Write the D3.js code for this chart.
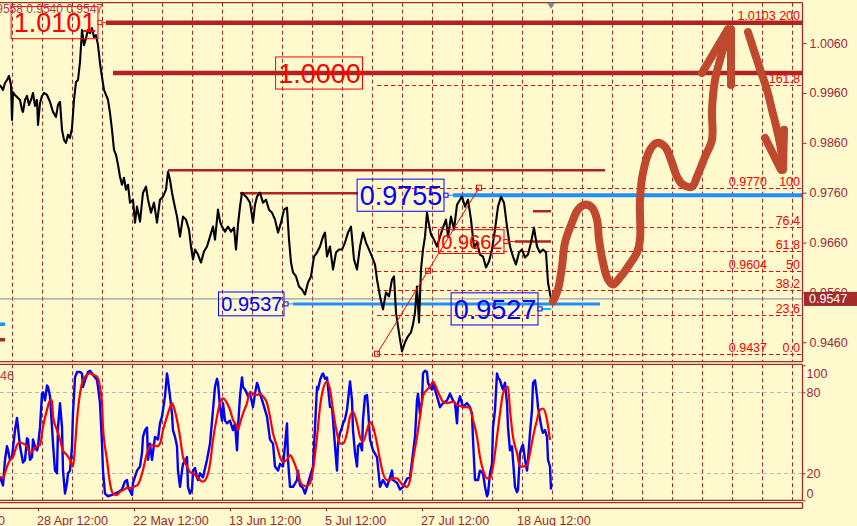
<!DOCTYPE html>
<html><head><meta charset="utf-8">
<script src="https://cdn.jsdelivr.net/npm/d3@7"></script>
<style>
html,body{margin:0;padding:0;background:#FFFACD;}
svg{display:block;}
text{font-family:"Liberation Sans",Arial,sans-serif;}
</style></head><body>
<svg id="c" width="857" height="526"></svg>
<script>
// ---------------- DATA ----------------
// price series: [bar index, close]
const priceSeries = [[0,0.9976],[3,0.9966],[5,0.9980],[7,0.9986],[9,0.9994],[11,0.9976],[12,0.9906],[13,0.9962],[15,0.9956],[18,0.9950],[20,0.9946],[22,0.9926],[23,0.9922],[25,0.9946],[27,0.9954],[29,0.9936],[31,0.9946],[33,0.9960],[35,0.9934],[37,0.9946],[38,0.9896],[40,0.9940],[42,0.9954],[44,0.9960],[47,0.9956],[50,0.9942],[53,0.9922],[56,0.9912],[58,0.9936],[60,0.9942],[62,0.9886],[64,0.9866],[66,0.9860],[68,0.9876],[70,0.9870],[72,0.9890],[74,0.9946],[76,0.9982],[78,0.9986],[80,1.0022],
[82,1.0086],[84,1.0056],[86,1.0070],[88,1.0086],[90,1.0080],[92,1.0090],[94,1.0072],[96,1.0076],[98,1.0056],[100,1.0020],[102,0.9992],[104,0.9966],[106,0.9956],[108,0.9946],[110,0.9920],[112,0.9886],[114,0.9846],[116,0.9836],[118,0.9816],[120,0.9792],[122,0.9776],[124,0.9790],[126,0.9766],[128,0.9776],[130,0.9740],
[133,0.9746],[135,0.9700],[137,0.9732],[140,0.9702],[143,0.9760],[146,0.9772],[148,0.9746],[151,0.9720],[154,0.9740],[157,0.9700],[160,0.9746],[163,0.9752],[166,0.9766],[168,0.9802],[170,0.9786],[172,0.9760],[174,0.9740],[177,0.9712],[180,0.9672],[183,0.9712],[186,0.9706],[189,0.9686],[191,0.9652],[193,0.9626],[195,0.9646],[198,0.9636],[201,0.9620],[204,0.9642],[207,0.9652],[210,0.9672],[213,0.9692],[215,0.9666],[218,0.9726],[220,0.9702],[222,0.9692],[225,0.9682],[228,0.9692],[231,0.9682],[234,0.9690],[236,0.9646],[238,0.9696],[240,0.9732],[242,0.9760],[244,0.9756],[247,0.9750],[250,0.9740],[253,0.9700],[255,0.9736],[257,0.9752],[260,0.9760],[263,0.9740],[266,0.9746],[269,0.9726],[272,0.9720],[275,0.9706],[278,0.9680],[281,0.9700],[284,0.9726],[287,0.9730],[289,0.9666],[291,0.9620],[293,0.9600],[296,0.9592],[299,0.9572],[302,0.9566],[305,0.9556],[308,0.9580],[311,0.9592],[314,0.9632],[317,0.9640],[320,0.9652],[323,0.9672],[325,0.9680],[327,0.9632],[330,0.9652],[333,0.9606],[336,0.9640],[339,0.9646],[342,0.9646],[345,0.9660],[348,0.9680],[351,0.9692],[354,0.9626],[357,0.9606],[360,0.9652],[363,0.9680],[366,0.9660],[369,0.9646],[372,0.9632],[375,0.9616],[377,0.9586],[380,0.9552],[383,0.9526],[386,0.9560],[389,0.9552],[392,0.9586],[394,0.9592],[396,0.9520],[398,0.9492],[400,0.9466],[402,0.9442],[405,0.9460],[408,0.9472],[411,0.9480],[413,0.9496],[415,0.9520],[417,0.9572],[419,0.9500],[421,0.9606],[423,0.9646],[425,0.9672],[427,0.9720],[429,0.9696],[431,0.9676],[434,0.9666],[437,0.9652],[440,0.9672],[443,0.9690],[446,0.9706],[448,0.9672],[451,0.9712],[454,0.9686],[457,0.9736],[460,0.9746],[462,0.9752],[465,0.9732],[468,0.9746],[471,0.9706],[474,0.9650],[477,0.9660],[480,0.9636],[483,0.9632],[486,0.9610],[489,0.9622],[492,0.9646],[495,0.9686],[498,0.9732],[501,0.9752],[504,0.9740],[507,0.9692],[510,0.9652],[513,0.9632],[516,0.9616],[519,0.9640],[522,0.9646],[525,0.9630],[528,0.9636],[531,0.9660],[534,0.9690],[537,0.9652],[540,0.9640],[543,0.9646],[546,0.9640],[548,0.9580],[551,0.9547]];

// stochastic %K (blue) and %D (red): [bar index, value]
const stochK = [[0,17.5],[3,11],[5,30],[7,40],[8,37],[10,30],[12,32],[15,52],[17,61],[18,54],[20,40],[23,28],[25,30],[27,46],[28,45],[30,30],[32,32],[33,45],[35,40],[37,37],[38,40],[40,54],[42,79],[43,80],[45,74],[47,85],[48,84],[50,77],[52,54],[53,42],[55,22],[57,20],[58,54],[60,72],[62,54],[63,22],[65,5],[67,13],[68,20],[70,22],[72,40],[73,65],[75,91],[77,95],[80,95],[82,94],[83,84],[85,89],[88,95],[90,96],[93,93],[97,89],[98,84],[100,72],[102,42],[103,22],[105,5],[108,3],[112,4],[115,5],[118,6],[122,8],[125,14],[127,15],[128,10],[132,4],[133,13],[137,22],[140,25],[142,35],[143,47],[145,52],[147,54],[148,30],[150,42],[152,30],[155,47],[158,45],[160,57],[162,62],[163,67],[165,77],[167,94],[168,89],[170,77],[172,64],[173,52],[175,47],[177,40],[178,22],[180,10],[182,22],[183,27],[187,32],[188,10],[190,5],[192,8],[193,22],[195,24],[197,17],[198,15],[200,20],[203,17],[207,30],[210,42],[213,67],[215,84],[217,90],[218,87],[220,69],[222,59],[223,72],[225,59],[227,57],[230,59],[233,52],[235,57],[237,37],[238,54],[240,77],[242,91],[243,84],[245,82],[247,79],[248,77],[250,79],[253,69],[255,79],[257,87],[258,85],[260,79],[263,72],[267,62],[270,45],[273,42],[275,25],[278,22],[280,27],[283,25],[287,57],[288,30],[290,10],[293,10],[297,15],[298,22],[300,11],[303,9],[305,5],[307,10],[310,17.5],[313,25],[315,54],[317,84],[318,82],[320,89],[322,93],[323,94],[325,90],[327,91],[328,84],[330,69],[332,69],[333,60],[335,40],[337,22],[338,42],[340,50],[342,54],[343,57],[345,60],[347,67],[350,88],[352,74],[353,52],[355,35],[357,25],[358,40],[360,42],[362,37],[363,60],[365,77],[367,78],[368,69],[370,45],[373,37],[377,32],[380,10],[383,15],[387,10],[390,17],[392,22],[393,15],[397,13],[400,8],[403,10],[407,16],[410,17],[413,35],[415,47],[417,74],[418,79],[420,64],[422,74],[423,94],[425,96],[427,95],[428,87],[430,84],[432,82],[433,87],[437,77],[440,69],[443,72],[447,74],[450,79],[453,74],[455,72],[457,57],[458,72],[460,77],[463,69],[467,72],[470,69],[472,64],[473,45],[475,15],[478,15],[480,22],[483,20],[485,10],[487,3],[488,5],[490,20],[492,27],[493,54],[495,67],[497,94],[498,91],[500,89],[502,84],[503,82],[505,87],[507,72],[508,54],[510,37],[512,40],[513,30],[515,10],[517,6],[518,8],[520,35],[522,40],[523,41],[525,30],[527,22],[528,30],[530,50],[532,67],[533,87],[535,89],[537,77],[538,69],[540,60],[542,52],[543,50],[545,52],[547,47],[548,30],[550,25],[551,8]];
const stochD = [[0,17.5],[3,16.5],[7,25],[10,30],[13,32],[17,41],[20,43],[23,42],[27,40],[30,35],[33,37],[37,40],[40,41],[43,54.5],[47,67],[50,74],[52,74],[53,62],[57,52],[60,45],[63,37],[67,33.5],[70,30],[73,25],[75,40],[77,59.5],[80,79],[83,89],[87,93],[90,94],[93,93],[97,91.5],[100,84],[102,72],[103,54.5],[107,30],[110,12.6],[113,5],[117,4],[120,6.4],[123,7.6],[127,9],[130,9],[133,10],[137,11],[140,15],[143,22.5],[147,35],[150,40],[153,41],[157,40],[160,42],[163,52],[167,62],[170,69],[172,72],[173,70.6],[177,59.5],[180,47],[183,32],[187,25],[190,21],[193,20],[197,17.5],[200,15],[203,13.8],[207,17.5],[210,27],[213,44.7],[217,62],[220,72],[223,75.5],[227,72],[230,67],[233,59.5],[237,54.5],[238,52],[240,57],[243,64.4],[247,72],[250,80.4],[253,79],[257,78],[260,79],[263,77],[267,72],[270,62],[273,49.6],[277,40],[280,32],[283,28.6],[287,30],[290,33.5],[293,30],[297,22],[300,14],[303,11],[307,10.6],[310,12.6],[313,22.5],[317,47],[320,69],[323,82],[327,88],[330,82],[333,67],[337,49.6],[340,42],[343,42],[347,49.6],[350,62],[353,65.6],[357,57],[360,47],[363,43.4],[367,52],[370,58],[373,54.5],[377,42],[380,30],[383,20],[387,15],[390,15],[393,16.3],[397,16.3],[400,13.8],[403,11],[407,10],[410,15],[413,30],[417,47],[420,62],[423,77],[427,82],[430,84],[433,88],[437,82],[440,77],[443,73],[447,72],[450,72.5],[453,73],[457,70.6],[460,70],[463,69],[467,69],[470,68],[473,59.5],[477,47],[480,32],[483,22.5],[487,16.3],[490,16.3],[493,25],[497,47],[500,64.4],[503,79],[507,84],[508,84],[510,67],[513,47],[517,35],[520,25],[523,25],[527,26],[530,35],[533,47],[537,59.5],[540,67],[543,68],[547,59.5],[550,44.7]];

const priceTicks = [1.0060, 0.9960, 0.9860, 0.9760, 0.9660, 0.9560, 0.9460];
const stochTicks = [100, 80, 20, 0];
const stochLevels = [80, 20];
const timeLabels = ["6 Apr 12:00", "28 Apr 12:00", "22 May 12:00", "13 Jun 12:00", "5 Jul 12:00", "27 Jul 12:00", "18 Aug 12:00"];
const timeLabelBars = [-59, 37, 133, 229, 325, 421, 517];
const gridBars = [12,42,72,102,132,162,192,222,252,282,312,342,372,402,432,462,492,522,552,582,612,642,672,702,732,762,792];
const currentPrice = 0.9547;
const lastBar = 551;
const headerText = "0.9558 0.9540 0.9547";
const stochHeader = "46";

// Fibonacci
const fibLowPrice = 0.9437, fibHighPrice = 0.9770;
const fibLowBar = 377, fibHighBar = 479;
const fibLevels = [0, 23.6, 38.2, 50, 61.8, 76.4, 100, 161.8, 200];
const fibLevelText = ["0.0", "23.6", "38.2", "50", "61.8", "76.4", "100", "161.8", "200"];
const fibPriceShown = [true, false, false, true, false, false, true, false, true];

// horizontal level lines: price, start bar, end bar
const redLinePrices = [1.0101, 1.0000, 0.9805, 0.9759, 0.9662, 0.9723];
const redLineStart  = [106, 113, 168, 240, 515, 533];
const redLineEnd    = [802, 802, 605, 358, 551, 551];
const blueLinePrices = [0.9755, 0.9537, 0.9527];
const blueLineStart  = [453, 293, 541];
const blueLineEnd    = [802, 600, 551];

// price tags (boxed labels)
const tagTexts  = ["1.0101", "1.0000", "0.9755", "0.9537", "0.9527", "0.9662"];
const tagPrices = [1.0101, 1.0000, 0.9755, 0.9537, 0.9527, 0.9662];
const tagBars   = [100, 364.5, 446, 286, 540, 506];

// hand-drawn forecast arrows (bar, price)
const arrowMain = [[553,0.9542],[558,0.9566],[562,0.9612],[565,0.9660],[572,0.9700],[578,0.9726],[585,0.9736],[592,0.9730],[597,0.9706],[599,0.9666],[603,0.9620],[608,0.9586],[613,0.9576],[620,0.9590],[628,0.9612],[637,0.9640],[640,0.9666],[640,0.9746],[643,0.9800],[650,0.9846],[657,0.9860],[665,0.9852],[672,0.9820],[677,0.9792],[683,0.9776],[692,0.9772],[697,0.9792],[705,0.9832],[712,0.9866],[712,0.9926],[715,0.9986],[720,1.0026],[725,1.0060],[730,1.0086]];
const arrowMainHeadL = [[702,1.0000],[728,1.0088]];
const arrowMainHeadR = [[731,1.0088],[731,0.9976]];
const arrowDown = [[748,1.0082],[758,1.0020],[767,0.9966],[772,0.9926],[777,0.9886],[781,0.9846],[782,0.9806]];
const arrowDownHeadL = [[765,0.9870],[781,0.9806]];
const arrowDownHeadR = [[784,0.9886],[783,0.9806]];

// ---------------- LAYOUT ----------------
const W = 857, H = 526;
const plotRight = 802.5, mainTop = 2.7, mainBottom = 361.7;
const oscTop = 364.3, oscBottom = 500.3, bandTop = 502.7, bandBottom = 508.3;
const BG = "#FFFACD", AXIS = "#A0283C", GRID = "#A52A2A", FIRE = "#B22222";
const BLUE = "#1E90FF", ARROW = "#C0482F";

const x = d3.scaleLinear().domain([0, 802]).range([0, 802]);
const y = d3.scaleLinear().domain([0.9460, 1.0060]).range([342.3, 43.1]);
const oy = d3.scaleLinear().domain([0, 100]).range([500.3, 365.3]);

const svg = d3.select("#c");
svg.append("rect").attr("width", W).attr("height", H).attr("fill", BG);

const defs = svg.append("defs");
defs.append("clipPath").attr("id", "mainClip").append("rect")
  .attr("x", 0).attr("y", mainTop).attr("width", plotRight).attr("height", mainBottom - mainTop);
defs.append("clipPath").attr("id", "oscClip").append("rect")
  .attr("x", 0).attr("y", oscTop).attr("width", plotRight).attr("height", oscBottom - oscTop);

const main = svg.append("g").attr("clip-path", "url(#mainClip)");
const osc = svg.append("g").attr("clip-path", "url(#oscClip)");

// vertical grid
[[main, mainTop, mainBottom], [osc, oscTop, oscBottom]].forEach(([g, t, b]) => {
  g.selectAll(null).data(gridBars).enter().append("line")
    .attr("x1", d => x(d) + 0.5).attr("x2", d => x(d) + 0.5)
    .attr("y1", t).attr("y2", b)
    .attr("stroke", GRID).attr("stroke-width", 1).attr("stroke-dasharray", "4,3");
});

// stoch level lines
osc.selectAll(null).data(stochLevels).enter().append("line")
  .attr("x1", 0).attr("x2", plotRight)
  .attr("y1", d => Math.round(oy(d)) + 0.5).attr("y2", d => Math.round(oy(d)) + 0.5)
  .attr("stroke", "#B8B8B8").attr("stroke-dasharray", "4,3");

// fib dashed lines
const fibPrice = l => fibLowPrice + (fibHighPrice - fibLowPrice) * l / 100;
main.selectAll(null).data(fibLevels).enter().append("line")
  .attr("x1", x(fibLowBar)).attr("x2", plotRight)
  .attr("y1", d => Math.round(y(fibPrice(d))) + 0.5).attr("y2", d => Math.round(y(fibPrice(d))) + 0.5)
  .attr("stroke", "#FF0000").attr("stroke-dasharray", "4,3");

// red level lines
const redWidths = [4.5, 4.5, 2.5, 2.5, 2.5, 2.5];
redLinePrices.forEach((p, i) => {
  main.append("line").attr("x1", x(redLineStart[i])).attr("x2", x(redLineEnd[i]))
    .attr("y1", y(p)).attr("y2", y(p)).attr("stroke", FIRE).attr("stroke-width", redWidths[i]);
});
// current price line
main.append("line").attr("x1", 0).attr("x2", plotRight)
  .attr("y1", y(currentPrice)).attr("y2", y(currentPrice))
  .attr("stroke", "#7A8AA0").attr("stroke-width", 1);

// blue level lines
const blueWidths = [4, 3, 2];
const blueColors = [BLUE, BLUE, "#00BFFF"];
blueLinePrices.forEach((p, i) => {
  main.append("line").attr("x1", x(blueLineStart[i])).attr("x2", x(blueLineEnd[i]))
    .attr("y1", y(p)).attr("y2", y(p)).attr("stroke", blueColors[i]).attr("stroke-width", blueWidths[i]);
});

// price line
main.append("path").datum(priceSeries)
  .attr("d", d3.line().x(d => x(d[0])).y(d => y(d[1])))
  .attr("fill", "none").attr("stroke", "#000").attr("stroke-width", 2.1).attr("stroke-linejoin", "round");

// fib diagonal
const fibMidBar = (fibLowBar + fibHighBar) / 2, fibMidPrice = (fibLowPrice + fibHighPrice) / 2;
main.append("line").attr("x1", x(fibLowBar)).attr("y1", y(fibLowPrice))
  .attr("x2", x(fibHighBar)).attr("y2", y(fibHighPrice)).attr("stroke", "#FF0000").attr("stroke-width", 1);
[[fibLowBar, fibLowPrice], [fibMidBar, fibMidPrice], [fibHighBar, fibHighPrice]].forEach(([b, p]) => {
  main.append("rect").attr("x", x(b) - 2.5).attr("y", y(p) - 2.5).attr("width", 5).attr("height", 5)
    .attr("fill", "none").attr("stroke", "#FF0000").attr("stroke-width", 1);
});

// tags
const tagSizes = [27, 27, 27, 20, 27, 20];
const tagColors = ["#FF0000", "#FF0000", "#0000FF", "#0000FF", "#0000FF", "#FF0000"];
const tagMarker = [true, false, true, true, true, true];
const lineColorForTag = ["#FF0000", null, BLUE, BLUE, "#00BFFF", "#FF0000"];
const tagLineStart = [106, null, 453, 293, 551, 515];
tagTexts.forEach((t, i) => {
  const cx = x(tagBars[i]), cy = y(tagPrices[i]), s = tagSizes[i];
  const txt = main.append("text").attr("x", cx - 3.6).attr("y", cy + s * 0.36)
    .attr("text-anchor", "end").attr("font-size", s).attr("fill", tagColors[i]).text(t);
  const w = txt.node().getComputedTextLength();
  const h = s * 1.19;
  main.append("rect").attr("x", cx - 3.6 - w - 2.7).attr("y", cy - h / 2)
    .attr("width", w + 4.3).attr("height", h)
    .attr("fill", "none").attr("stroke", tagColors[i]).attr("stroke-width", 1);
  if (tagMarker[i]) {
    main.append("line").attr("x1", cx + 2).attr("x2", x(tagLineStart[i]))
      .attr("y1", cy).attr("y2", cy).attr("stroke", lineColorForTag[i]).attr("stroke-width", 1);
    main.append("rect").attr("x", cx - 2).attr("y", cy - 2).attr("width", 4).attr("height", 4)
      .attr("fill", BG).attr("stroke", tagColors[i]).attr("stroke-width", 1);
  }
});

// fib labels
fibLevels.forEach((l, i) => {
  const yy = y(fibPrice(l)) - 2;
  if (l === 200) {
    main.append("text").attr("x", 800).attr("y", yy).attr("text-anchor", "end")
      .attr("font-size", 12.5).attr("fill", "#FF0000").text(d3.format(".4f")(fibPrice(l)) + " " + fibLevelText[i]);
  } else {
    main.append("text").attr("x", 800).attr("y", yy).attr("text-anchor", "end")
      .attr("font-size", 12.5).attr("fill", "#FF0000").text(fibLevelText[i]);
    if (fibPriceShown[i]) {
      main.append("text").attr("x", 767).attr("y", yy).attr("text-anchor", "end")
        .attr("font-size", 12.5).attr("fill", "#FF0000").text(d3.format(".4f")(fibPrice(l)));
    }
  }
});

// arrows
const aLine = d3.line().x(d => x(d[0])).y(d => y(d[1])).curve(d3.curveCatmullRom.alpha(0.5));
[arrowMain, arrowMainHeadL, arrowMainHeadR, arrowDown, arrowDownHeadL, arrowDownHeadR].forEach(pts => {
  main.append("path").datum(pts).attr("d", aLine).attr("fill", "none")
    .attr("stroke", ARROW).attr("stroke-width", 8).attr("stroke-linecap", "round").attr("stroke-linejoin", "round");
});

// stoch lines
osc.append("path").datum(stochK)
  .attr("d", d3.line().x(d => x(d[0])).y(d => oy(d[1])))
  .attr("fill", "none").attr("stroke", "#0000FF").attr("stroke-width", 2.4).attr("stroke-linejoin", "round");
osc.append("path").datum(stochD)
  .attr("d", d3.line().x(d => x(d[0])).y(d => oy(d[1])).curve(d3.curveMonotoneX))
  .attr("fill", "none").attr("stroke", "#FF0000").attr("stroke-width", 2.2).attr("stroke-linejoin", "round");

// borders
const border = svg.append("g").attr("stroke", GRID).attr("stroke-width", 1.3).attr("fill", "none");
[mainTop, mainBottom, oscTop, oscBottom, bandTop, bandBottom].forEach(v => {
  border.append("line").attr("x1", 0).attr("x2", plotRight).attr("y1", v).attr("y2", v);
});
border.append("line").attr("x1", plotRight).attr("x2", plotRight).attr("y1", mainTop).attr("y2", mainBottom);
border.append("line").attr("x1", plotRight).attr("x2", plotRight).attr("y1", oscTop).attr("y2", oscBottom);
border.append("line").attr("x1", plotRight).attr("x2", plotRight).attr("y1", bandTop).attr("y2", bandBottom);

// price axis
const pAxis = svg.append("g").attr("transform", `translate(${plotRight},0)`)
  .call(d3.axisRight(y).tickValues(priceTicks).tickFormat(d3.format(".4f")).tickSize(4).tickPadding(3));
pAxis.select(".domain").remove();
pAxis.selectAll("line").attr("stroke", GRID);
pAxis.selectAll("text").attr("fill", AXIS).attr("font-size", 12.5).attr("font-family", "Liberation Sans, Arial, sans-serif");

// stoch axis
const sAxis = svg.append("g").attr("transform", `translate(${plotRight},0)`)
  .call(d3.axisRight(oy).tickValues(stochTicks).tickSize(3).tickPadding(1));
sAxis.select(".domain").remove();
sAxis.selectAll("line").attr("stroke", GRID);
sAxis.selectAll("text").attr("fill", AXIS).attr("font-size", 12.5).attr("font-family", "Liberation Sans, Arial, sans-serif")
  .attr("dy", d => d === 100 ? "0.95em" : d === 0 ? "-0.25em" : "0.32em");

// current price tag
const cpY = y(currentPrice);
svg.append("rect").attr("x", 804).attr("y", cpY - 7).attr("width", 53).attr("height", 14).attr("fill", "#A52A2A");
svg.append("text").attr("x", 809).attr("y", cpY + 4.5).attr("font-size", 12.5).attr("fill", "#fff").text(d3.format(".4f")(currentPrice));

// time labels
svg.selectAll(null).data(timeLabels).enter().append("text")
  .attr("x", (d, i) => x(timeLabelBars[i])).attr("y", 524.5)
  .attr("font-size", 12.5).attr("fill", AXIS).text(d => d);
svg.selectAll(null).data(timeLabelBars.filter(b => b > 0)).enter().append("line")
  .attr("x1", d => x(d) + 1.5).attr("x2", d => x(d) + 1.5).attr("y1", bandBottom).attr("y2", bandBottom + 3)
  .attr("stroke", GRID);

// headers
svg.append("text").attr("x", 103).attr("y", 13).attr("text-anchor", "end")
  .attr("font-size", 12).attr("fill", "#B03A48").text(headerText);
svg.append("text").attr("x", 14).attr("y", 380).attr("text-anchor", "end")
  .attr("font-size", 12.5).attr("fill", "#B03A48").text(stochHeader);

// chart shift triangle
svg.append("path").attr("d", `M${x(lastBar) - 4},${mainTop} L${x(lastBar) + 4},${mainTop} L${x(lastBar)},${mainTop + 6} Z`)
  .attr("fill", "#7B8799");

// left markers
svg.append("rect").attr("x", 0).attr("y", 322.5).attr("width", 5).attr("height", 3.5).attr("fill", BLUE);
svg.append("rect").attr("x", 0).attr("y", 338).attr("width", 5).attr("height", 3.5).attr("fill", "#A52A2A");
</script>
</body></html>
